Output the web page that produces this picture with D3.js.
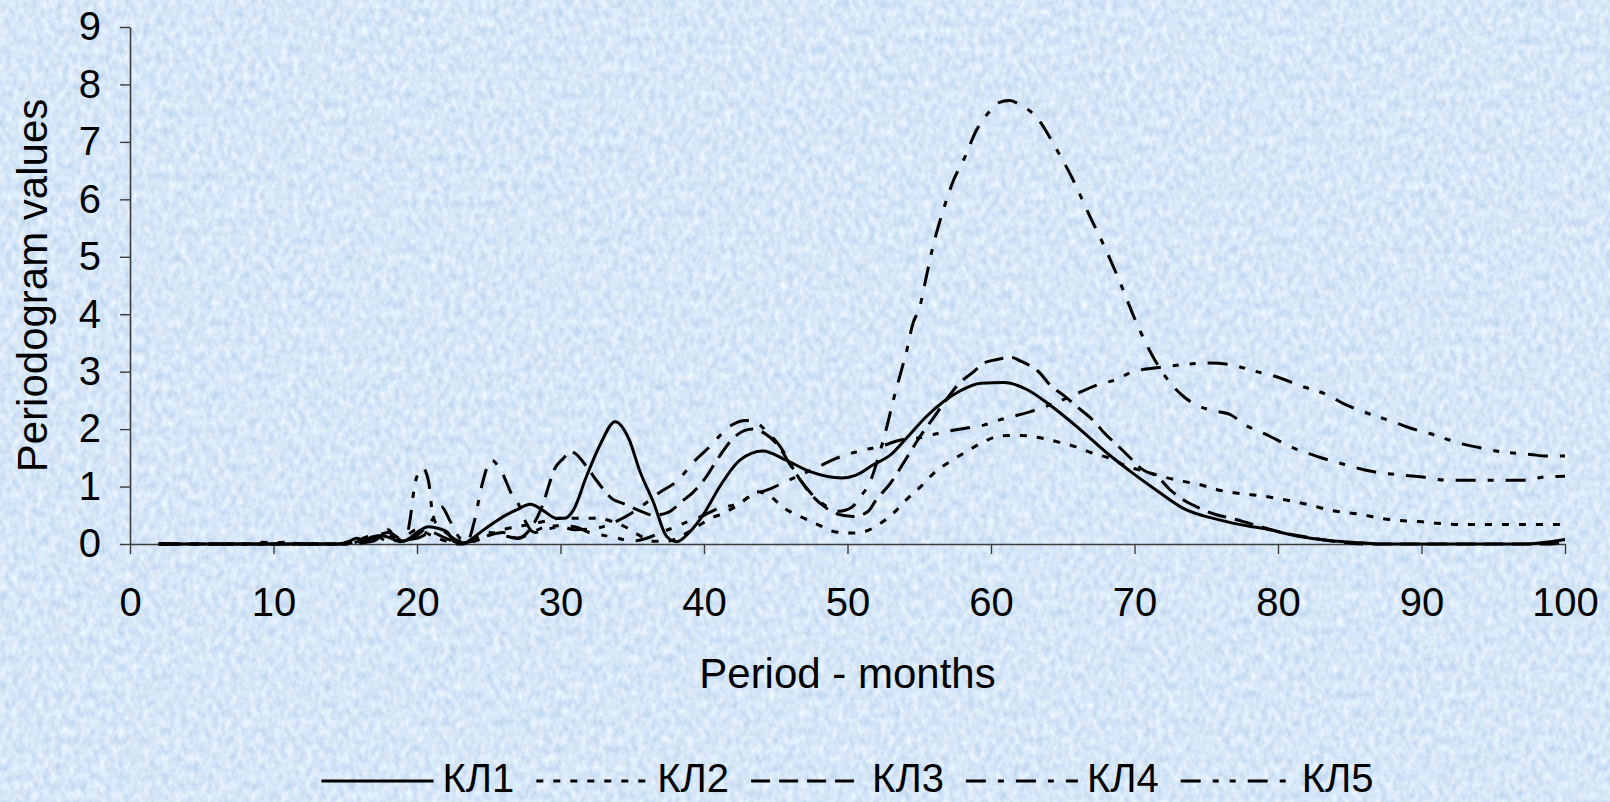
<!DOCTYPE html>
<html><head><meta charset="utf-8">
<script src="https://cdn.jsdelivr.net/npm/d3@7"></script>
<style>
html,body{margin:0;padding:0;background:#d6e5f7;overflow:hidden}
text{font-family:"Liberation Sans",Arial,Helvetica,sans-serif;fill:#000}
</style>
</head><body><svg id="c" width="1610" height="802"></svg>
<script>
// ---------- data ----------
const seriesNames = ["КЛ1", "КЛ2", "КЛ3", "КЛ4", "КЛ5"];
const xTickValues = [0, 10, 20, 30, 40, 50, 60, 70, 80, 90, 100];
const yTickValues = [0, 1, 2, 3, 4, 5, 6, 7, 8, 9];
const xTitle = "Period - months";
const yTitle = "Periodogram values";

// [period (months), periodogram value]
const kl1 = [[2,0],[14.5,0],[15.3,0.05],[15.8,0.1],[16.3,0.06],[16.8,0.12],[17.5,0.15],[18.2,0.1],[18.8,0.04],[19.3,0.07],[20,0.2],[20.8,0.3],[21.5,0.27],[22.1,0.21],[22.6,0.04],[23.2,0],[23.7,0.07],[24.5,0.22],[25.3,0.36],[26.1,0.49],[26.9,0.59],[27.9,0.69],[28.8,0.58],[29.7,0.45],[30.3,0.45],[30.9,0.59],[31.8,1.17],[32.8,1.75],[33.8,2.13],[34.8,1.81],[35.5,1.29],[36.5,0.71],[37.4,0.13],[38.1,0.04],[39,0.21],[40,0.53],[41.1,1.0],[42.5,1.46],[44.1,1.62],[45.7,1.46],[47.4,1.26],[49.6,1.15],[50.6,1.2],[51.8,1.38],[53,1.55],[54.1,1.84],[55.5,2.22],[56.7,2.48],[57.8,2.66],[59.3,2.8],[60.9,2.81],[62.5,2.69],[64.1,2.42],[66,2.04],[68.1,1.58],[69.9,1.23],[71.5,0.94],[73.4,0.62],[75.9,0.42],[78,0.31],[79,0.27],[81.3,0.14],[83.6,0.06],[85.9,0.02],[87,0],[97,0],[100,0.08]];

const kl2 = [[2,0],[8,0],[9,0.03],[10,0.02],[11,0.03],[12,0],[15,0],[16,0.08],[17,0.15],[18,0.05],[19,0.1],[20,0.25],[21,0.15],[22,0.05],[23,0],[24,0.05],[25,0.15],[26,0.25],[27,0.3],[28,0.35],[29,0.4],[30,0.45],[31,0.45],[32.5,0.45],[33.5,0.4],[34.5,0.3],[35.5,0.15],[36.5,0.05],[37.5,0.05],[38.5,0.15],[39.5,0.3],[40.5,0.45],[41.3,0.53],[42.5,0.7],[43.7,0.91],[44.5,0.85],[45.6,0.62],[46.7,0.48],[48,0.33],[49.2,0.21],[50.4,0.19],[51.1,0.21],[52.3,0.36],[53.3,0.56],[54.1,0.77],[55.1,1.0],[56,1.23],[57.3,1.46],[58.3,1.61],[59.5,1.78],[60.6,1.88],[62,1.89],[63.2,1.86],[64.6,1.78],[65.8,1.7],[67.1,1.58],[68.3,1.49],[69.5,1.35],[70.8,1.26],[72,1.17],[73.4,1.09],[74.6,1.03],[75.7,0.95],[76.7,0.9],[78.5,0.85],[81.1,0.74],[82.2,0.68],[83.6,0.59],[85.9,0.51],[87.3,0.44],[88.5,0.41],[89.9,0.39],[91.1,0.36],[92.4,0.34],[100,0.34]];

const kl3 = [[2,0],[15,0],[16,0.05],[17,0.12],[18,0.2],[19,0.08],[20,0.1],[21,0.2],[22,0.1],[23,0.02],[24,0.05],[25,0.15],[26,0.2],[27,0.1],[28,0.3],[28.8,0.71],[29.2,1.03],[29.5,1.26],[30.2,1.49],[30.7,1.61],[31,1.58],[31.9,1.32],[32.5,1.11],[33.7,0.77],[34.3,0.71],[35.7,0.56],[36.5,0.5],[37.5,0.55],[38.5,0.75],[39.2,0.89],[40.1,1.15],[41,1.5],[42.3,1.9],[43.4,2.0],[44.2,1.93],[45.3,1.67],[46,1.38],[46.7,1.12],[47.5,0.85],[48.4,0.65],[49.2,0.53],[50.4,0.48],[51.4,0.56],[52,0.77],[53,1.06],[54,1.45],[55,1.85],[56,2.2],[57,2.55],[57.8,2.8],[58.8,3.0],[59.5,3.15],[60.6,3.22],[61.4,3.25],[62.1,3.18],[62.6,3.12],[63.4,2.98],[64.1,2.77],[65,2.6],[66,2.39],[67.2,2.13],[67.8,1.96],[68.8,1.72],[69.5,1.55],[70.6,1.29],[71.6,1.17],[72.5,0.94],[73.4,0.77],[74.3,0.65],[75.7,0.51],[76.7,0.45],[78,0.36],[80.1,0.21],[82.5,0.1],[84.8,0.02],[86,0],[99,0],[100,0.05]];

const kl4 = [[2,0],[15,0],[16,0.03],[17,0.1],[18,0.15],[19,0.05],[20,0.15],[21,0.4],[21.7,0.65],[22.3,0.4],[23,0.1],[23.5,0.05],[24,0.4],[24.5,1.0],[25.2,1.46],[25.8,1.3],[26.7,0.82],[27.1,0.68],[27.5,0.42],[28.2,0.2],[29,0.25],[30,0.3],[31,0.25],[32.4,0.27],[34.1,0.42],[36.1,0.74],[36.8,0.88],[38.1,1.09],[39.4,1.46],[40.3,1.67],[41,1.86],[42,2.08],[42.9,2.15],[43.6,2.12],[44.4,1.95],[45.3,1.7],[46,1.4],[46.7,1.12],[47.5,0.87],[48.4,0.68],[49.4,0.57],[50.3,0.64],[50.9,0.82],[51.6,1.1],[52.2,1.55],[52.7,2.0],[53.2,2.51],[53.7,2.97],[54.2,3.44],[54.5,3.79],[55.05,4.14],[55.5,4.66],[55.9,5.12],[56.4,5.59],[56.9,5.99],[57.4,6.34],[58.1,6.69],[59,7.21],[59.9,7.53],[60.5,7.68],[61.3,7.72],[62,7.65],[63.2,7.42],[64.5,6.9],[65.7,6.35],[66.8,5.75],[67.9,5.18],[69,4.55],[70,3.93],[71.2,3.3],[72.5,2.8],[73.5,2.55],[74.5,2.4],[75.5,2.32],[76.7,2.25],[77.6,2.09],[79.4,1.88],[81.1,1.67],[82.9,1.51],[84.7,1.38],[86.4,1.27],[88.2,1.21],[89.9,1.17],[91.8,1.11],[95.2,1.11],[97,1.11],[98.7,1.17],[100,1.18]];

const kl5 = [[2,0],[15,0],[17,0.05],[18,0.25],[18.5,0.1],[19.2,0.05],[19.5,0.4],[19.9,1.1],[20.4,1.32],[20.8,1.1],[21.1,0.5],[21.5,0.3],[22,0.2],[23,0.05],[24,0.1],[25,0.2],[26,0.15],[27,0.1],[28,0.2],[29,0.3],[30,0.32],[31,0.3],[32,0.2],[33,0.15],[34,0.1],[35,0.05],[36,0.1],[37,0.2],[38,0.3],[39,0.4],[40,0.5],[40.8,0.6],[42.3,0.7],[43.4,0.85],[44.7,0.97],[45.9,1.11],[48,1.35],[49.2,1.49],[51.2,1.64],[52.3,1.7],[53.7,1.81],[54.8,1.84],[56.9,1.96],[58.3,2.02],[59.5,2.07],[60.6,2.16],[62.7,2.3],[65.3,2.54],[67.4,2.77],[68.8,2.87],[69.7,2.98],[72.2,3.09],[75.3,3.15],[76.7,3.12],[78.5,3.0],[79.8,2.92],[81.6,2.75],[83.4,2.6],[84.6,2.44],[86.2,2.28],[88,2.13],[89.2,2.02],[91,1.89],[92.7,1.75],[94,1.68],[95.7,1.6],[97.6,1.56],[98.7,1.53],[100,1.53]];

const seriesData = [kl1, kl2, kl3, kl4, kl5];
const dashes = ["none", "7,10", "19,9", "20,12,6,12", "20,12,6,11,6,12"];

// ---------- layout ----------
const W = 1610, H = 802;
const svg = d3.select("#c");
const defs = svg.append("defs");
const f = defs.append("filter").attr("id","tex").attr("x",0).attr("y",0)
  .attr("width","100%").attr("height","100%")
  .attr("color-interpolation-filters","sRGB");
f.append("feTurbulence").attr("type","fractalNoise").attr("baseFrequency","0.16 0.11")
  .attr("numOctaves",3).attr("seed",7).attr("result","n");
f.append("feColorMatrix").attr("in","n").attr("type","matrix")
  .attr("values","0.26 0 0 0 0.71  0.19 0 0 0 0.81  0.09 0 0 0 0.925  0 0 0 0 1");
svg.append("rect").attr("width",W).attr("height",H).attr("fill","#d6e5f7");
svg.append("rect").attr("width",W).attr("height",H).attr("filter","url(#tex)");

const x = d3.scaleLinear().domain([0,100]).range([130,1565]);
const y = d3.scaleLinear().domain([0,9]).range([544,27]);
const axisColor = "#3c3c3c";

const gx = svg.append("g").attr("transform","translate(0,544)")
  .call(d3.axisBottom(x).tickValues(xTickValues).tickSize(10).tickSizeOuter(0).tickPadding(34).tickFormat(d3.format("d")));
const gy = svg.append("g").attr("transform","translate(130,0)")
  .call(d3.axisLeft(y).tickValues(yTickValues).tickSize(10).tickSizeOuter(0).tickPadding(19).tickFormat(d3.format("d")));
[gx, gy].forEach(g => {
  g.select(".domain").attr("stroke",axisColor).attr("stroke-width",1.6);
  g.selectAll(".tick line").attr("stroke",axisColor).attr("stroke-width",1.4);
  g.selectAll(".tick text").attr("font-size",40).attr("fill","#000")
    .attr("font-family",'"Liberation Sans",Arial,sans-serif');
});

// titles
svg.append("text").attr("x",(x.range()[0]+x.range()[1])/2).attr("y",688)
  .attr("text-anchor","middle").attr("font-size",42).text(xTitle);
svg.append("text").attr("transform",`translate(47,${(y.range()[0]+y.range()[1])/2}) rotate(-90)`)
  .attr("text-anchor","middle").attr("font-size",42).text(yTitle);

// lines
const line = d3.line().x(d => x(d[0])).y(d => y(d[1])).curve(d3.curveMonotoneX);
const gl = svg.append("g");
seriesData.forEach((s,i) => {
  gl.append("path").datum(s).attr("d",line).attr("fill","none")
    .attr("stroke","#000").attr("stroke-width",3)
    .attr("stroke-linejoin","round")
    .attr("stroke-dasharray",dashes[i]);
});

// legend
const lg = svg.append("g");
const lineLen = 112, gapLT = 9, gapItem = 22, ly = 781, lBase = 792;
let cx = 0;
seriesNames.forEach((n,i) => {
  const it = lg.append("g");
  it.append("line").attr("x1",cx).attr("x2",cx+lineLen).attr("y1",ly).attr("y2",ly)
    .attr("stroke","#000").attr("stroke-width",3).attr("stroke-dasharray",dashes[i]);
  const t = it.append("text").attr("x",cx+lineLen+gapLT).attr("y",lBase).attr("font-size",40).text(n);
  const w = t.node().getComputedTextLength();
  cx += lineLen + gapLT + w + gapItem;
});
const totalW = cx - gapItem;
lg.attr("transform",`translate(${(x.range()[0]+x.range()[1])/2 - totalW/2},0)`);
</script>
</body></html>
